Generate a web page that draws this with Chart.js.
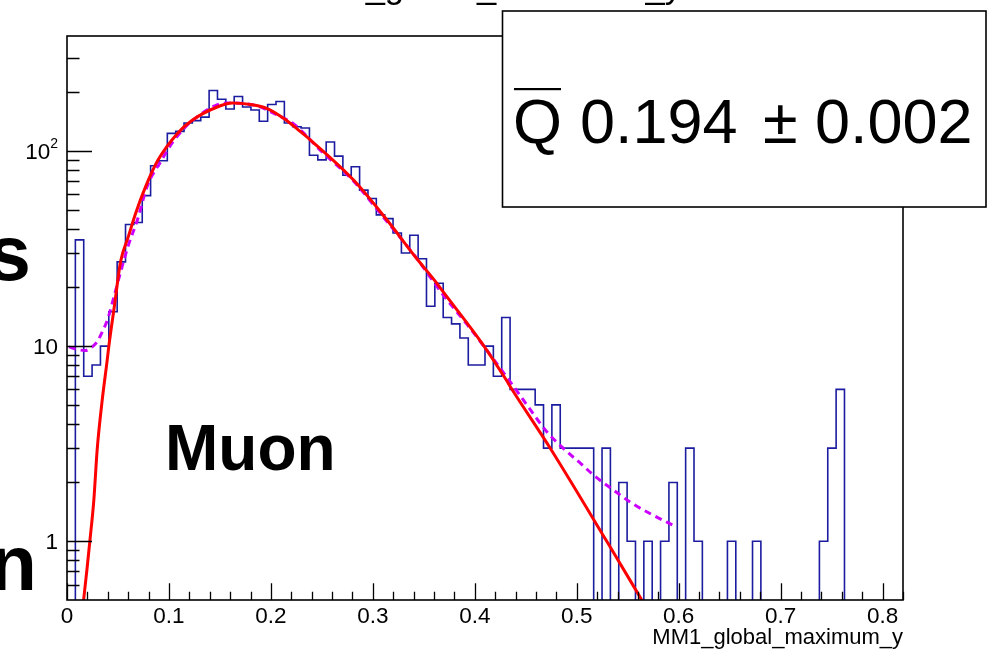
<!DOCTYPE html>
<html>
<head>
<meta charset="utf-8">
<title>MM1_global_maximum_y</title>
<script src="https://cdn.jsdelivr.net/npm/chart.js@4.4.1/dist/chart.umd.min.js"></script>
<style>
  html, body { margin: 0; padding: 0; background: #fff; }
  #plot { display: block; }
</style>
</head>
<body>
<canvas id="plot" width="998" height="650"></canvas>
<script>
// histogram: 100 bins over 0 .. 0.82
const BIN_LOW = 0;
const BIN_WIDTH = 0.0082;
const COUNTS = [
  0, 35, 7, 8, 10, 15, 27, 42, 43, 59,
  84, 89, 123, 126, 139, 143, 149, 204, 184, 164,
  190, 168, 162, 142, 173, 179, 139, 133, 131, 95,
  90, 111, 94, 75, 83, 63, 57, 47, 45, 38,
  30, 37, 28, 16, 21, 14, 13, 11, 8, 8,
  10, 7, 14, 6, 6, 6, 5, 3, 5, 3,
  3, 3, 3, 0, 3, 0, 2, 1, 0, 1,
  0, 1, 2, 0, 3, 1, 0, 0, 0, 1,
  0, 0, 1, 0, 0, 0, 0, 0, 0, 0,
  1, 3, 6, 0, 0, 0, 0, 0, 0, 0,
];

// red fit curve
const FIT_X = [0.0162, 0.0198, 0.0224, 0.0263, 0.0296, 0.0345, 0.0394, 0.0410, 0.0466, 0.0525,
  0.0603, 0.0672, 0.077, 0.0891, 0.1081, 0.1228, 0.1473, 0.162, 0.18, 0.1964,
  0.2124, 0.229, 0.2388, 0.2813, 0.3141, 0.3418, 0.3615, 0.3696, 0.4073, 0.4301,
  0.4367, 0.4743, 0.5299, 0.5642];
const FIT_Y = [0.496, 0.736, 1.0, 1.62, 2.95, 5.27, 8.45, 9.95, 16.2, 27.0,
  36.6, 47.7, 65.4, 89.5, 122.6, 143.6, 167.9, 175.9, 172.8, 164.9,
  147, 125.5, 113.7, 70.7, 44.1, 28.6, 21.4, 18.8, 10.3, 6.8,
  5.97, 2.98, 0.99, 0.496];

// magenta dashed curve
const SMOOTH_X = [0.002, 0.010, 0.018, 0.0247, 0.030, 0.0345, 0.040, 0.0469, 0.054, 0.0607,
  0.0689, 0.0787, 0.0918, 0.1048, 0.1244, 0.157, 0.183, 0.206, 0.2226, 0.25,
  0.28, 0.31, 0.34, 0.37, 0.393, 0.41, 0.4385, 0.455, 0.471, 0.491,
  0.504, 0.517, 0.5366, 0.553, 0.5726, 0.597];
const SMOOTH_Y = [9.9, 9.6, 9.5, 9.9, 10.6, 11.8, 13.8, 18.6, 25.5, 33.5,
  44, 66, 88, 113, 145, 176, 172, 153, 137, 99,
  71, 46, 29.5, 18, 12.8, 9.8, 6.17, 4.68, 3.62, 2.86,
  2.5, 2.17, 1.82, 1.58, 1.38, 1.19];

const X_TICKS = [0, 0.1, 0.2, 0.3, 0.4, 0.5, 0.6, 0.7, 0.8];
const X_TICK_LABELS = ['0', '0.1', '0.2', '0.3', '0.4', '0.5', '0.6', '0.7', '0.8'];
const Y_TICKS = [1, 10, 100];
const Y_TICK_BASE = ['1', '10', '10'];
const Y_TICK_EXP = ['', '', '2'];

const TITLE = 'MM1_global_maximum_y';
const X_TITLE = 'MM1_global_maximum_y';
const LABEL = 'Muon';
const STAT_VALUE = '0.194';
const STAT_ERROR = '0.002';

const FONT = '"Liberation Sans", Arial, Helvetica, sans-serif';
const FLOOR = 0.2; // empty bins go below the axis and are clipped away

const histPoints = COUNTS.map((c, i) => ({ x: BIN_LOW + i * BIN_WIDTH, y: c > 0 ? c : FLOOR }));
histPoints.push({ x: BIN_LOW + COUNTS.length * BIN_WIDTH, y: FLOOR });
const fitPoints = FIT_X.map((x, i) => ({ x, y: FIT_Y[i] }));
const smoothPoints = SMOOTH_X.map((x, i) => ({ x, y: SMOOTH_Y[i] }));

const rootFrame = {
  id: 'rootFrame',
  afterDatasetsDraw(chart) {
    const { ctx, chartArea: a, scales: { x, y } } = chart;
    ctx.save();
    ctx.strokeStyle = '#000';
    ctx.lineWidth = 1.6;
    ctx.strokeRect(a.left, a.top, a.right - a.left, a.bottom - a.top);

    // x ticks, pointing inward
    ctx.lineWidth = 1.3;
    ctx.beginPath();
    for (let v = 0; v <= x.max + 1e-9; v += 0.02) {
      const px = Math.round(x.getPixelForValue(v)) + 0.5;
      const major = Math.abs(v * 10 - Math.round(v * 10)) < 1e-6;
      ctx.moveTo(px, a.bottom);
      ctx.lineTo(px, a.bottom - (major ? 16.7 : 8.3));
    }
    // y ticks
    [0.1, 1, 10, 100].forEach((d) => {
      for (let m = 1; m <= 9; m++) {
        const v = m * d;
        if (v <= y.min || v >= y.max) continue;
        const py = Math.round(y.getPixelForValue(v)) + 0.5;
        ctx.moveTo(a.left, py);
        ctx.lineTo(a.left + (m === 1 ? 25 : 12.5), py);
      }
    });
    ctx.stroke();

    // tick labels
    ctx.fillStyle = '#000';
    ctx.font = '22.5px ' + FONT;
    ctx.textAlign = 'center';
    ctx.textBaseline = 'alphabetic';
    X_TICKS.forEach((v, i) => {
      ctx.fillText(X_TICK_LABELS[i], x.getPixelForValue(v), 623);
    });
    Y_TICKS.forEach((v, i) => {
      const py = y.getPixelForValue(v);
      let right = a.left - 9;
      ctx.textAlign = 'right';
      if (Y_TICK_EXP[i]) {
        ctx.font = '14px ' + FONT;
        ctx.fillText(Y_TICK_EXP[i], right, py - 3);
        right -= ctx.measureText(Y_TICK_EXP[i]).width;
        ctx.font = '22.5px ' + FONT;
      }
      ctx.fillText(Y_TICK_BASE[i], right, py + 8);
    });

    ctx.textAlign = 'right';
    ctx.font = '22px ' + FONT;
    ctx.fillText(X_TITLE, a.right, 644);
    ctx.restore();
  },
  afterDraw(chart) {
    const { ctx } = chart;
    ctx.save();
    // title, mostly cut by the top edge
    ctx.fillStyle = '#000';
    ctx.textAlign = 'left';
    ctx.font = '34.5px ' + FONT;
    ctx.fillText(TITLE, 289, -2);

    // stats box
    ctx.fillStyle = '#fff';
    ctx.fillRect(502.5, 11, 483.5, 196);
    ctx.strokeStyle = '#000';
    ctx.lineWidth = 1.6;
    ctx.strokeRect(502.5, 11, 483.5, 196);
    ctx.fillStyle = '#000';
    ctx.font = '63px ' + FONT;
    ctx.fillText('Q', 513, 143);
    const qw = ctx.measureText('Q').width;
    ctx.fillRect(514, 88, qw - 2, 2.2);
    ctx.fillText(STAT_VALUE, 580, 143);
    ctx.fillText('\u00b1', 763, 143);
    ctx.fillText(STAT_ERROR, 815, 143);

    // big labels
    ctx.font = 'bold 64px ' + FONT;
    ctx.fillText(LABEL, 165, 470);
    ctx.textAlign = 'right';
    ctx.font = 'bold 78px ' + FONT;
    ctx.fillText('s', 31, 280);
    ctx.fillText('n', 37, 590);
    ctx.restore();
  },
};

new Chart(document.getElementById('plot'), {
  type: 'scatter',
  data: {
    datasets: [
      {
        label: 'fit',
        data: fitPoints,
        showLine: true,
        borderColor: '#ff0000',
        borderWidth: 3,
        pointRadius: 0,
        cubicInterpolationMode: 'monotone',
        order: 1,
      },
      {
        label: 'smooth',
        data: smoothPoints,
        showLine: true,
        borderColor: '#cc00ff',
        borderWidth: 3,
        borderDash: [7, 5],
        pointRadius: 0,
        cubicInterpolationMode: 'monotone',
        order: 2,
      },
      {
        label: 'MM1_global_maximum_y',
        data: histPoints,
        showLine: true,
        stepped: 'before',
        borderColor: '#1c1ca0',
        borderWidth: 1.6,
        pointRadius: 0,
        order: 3,
      },
    ],
  },
  options: {
    responsive: false,
    animation: false,
    devicePixelRatio: 1,
    layout: { padding: { left: 67, right: 95, top: 36, bottom: 50 } },
    plugins: { legend: { display: false }, tooltip: { enabled: false } },
    scales: {
      x: { type: 'linear', min: 0, max: 0.82, display: false },
      y: { type: 'logarithmic', min: 0.5, max: 388, display: false },
    },
  },
  plugins: [rootFrame],
});
</script>
</body>
</html>
